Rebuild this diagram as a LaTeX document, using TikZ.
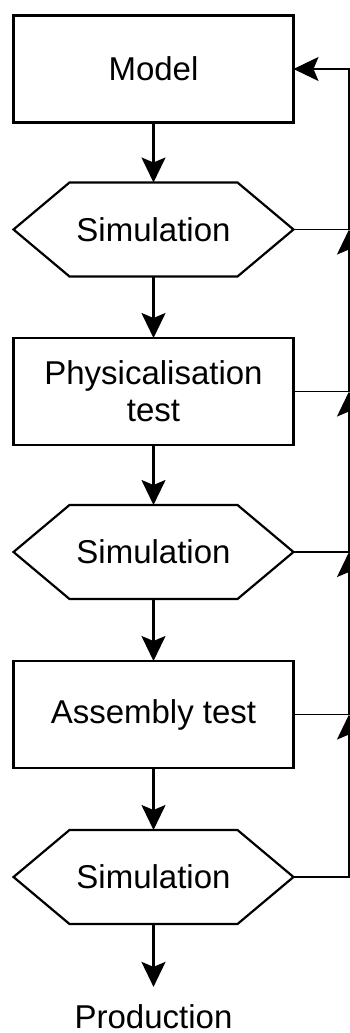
\documentclass[tikz,border=0pt]{standalone}
\usepackage{fontspec}
\setmainfont{Liberation Sans}
\usetikzlibrary{arrows.meta}
\begin{document}
\begin{tikzpicture}[x=1pt,y=-1pt,
  box/.style={draw, line width=2.8pt, minimum width=280pt, minimum height=107pt, inner sep=0pt, outer sep=0pt, align=center, font=\fontsize{33}{37}\selectfont},
  hexnode/.style={minimum width=280pt, minimum height=94pt, inner sep=0pt, outer sep=0pt, font=\fontsize{33}{37}\selectfont},
  hexline/.style={line width=2.2pt, line join=miter},
  tip/.style={-{Stealth[length=25pt, width=24pt, inset=5pt]}},
  flow/.style={line width=2.2pt, tip},
  fbarrow/.style={line width=1.8pt, tip}
]
\useasboundingbox (0,0) rectangle (350,1033);
\coordinate (rx) at (349,0);

\node[box] (model) at (153.5,69) {Model};
\node[hexnode] (sim1) at (153.5,229.5) {Simulation};
\node[box] (phys) at (153.5,391.5) {Physicalisation\\test};
\node[hexnode] (sim2) at (153.5,552) {Simulation};
\node[box] (asm) at (153.5,714.5) {Assembly test};
\node[hexnode] (sim3) at (153.5,877) {Simulation};
\node[anchor=base, inner sep=0pt, font=\fontsize{33}{37}\selectfont] (prod) at (153.5,1028) {Production};

\foreach \s in {sim1,sim2,sim3}{
  \draw[hexline] (\s.west) -- ([xshift=56pt]\s.north west) -- ([xshift=-56pt]\s.north east)
    -- (\s.east) -- ([xshift=-56pt]\s.south east) -- ([xshift=56pt]\s.south west) -- cycle;
}

\draw[flow] (model.south) -- (sim1.north);
\draw[flow] (sim1.south) -- (phys.north);
\draw[flow] (phys.south) -- (sim2.north);
\draw[flow] (sim2.south) -- (asm.north);
\draw[flow] (asm.south) -- (sim3.north);
\draw[flow] (sim3.south) -- ([yshift=17pt]prod.north);

\draw[fbarrow] (sim1.east) -- (sim1.east -| rx) |- (model.east);
\draw[fbarrow] (phys.east) -| (sim1.east -| rx);
\draw[fbarrow] (sim2.east) -| (phys.east -| rx);
\draw[fbarrow] (asm.east) -| (sim2.east -| rx);
\draw[fbarrow] (sim3.east) -| (asm.east -| rx);
\end{tikzpicture}
\end{document}
